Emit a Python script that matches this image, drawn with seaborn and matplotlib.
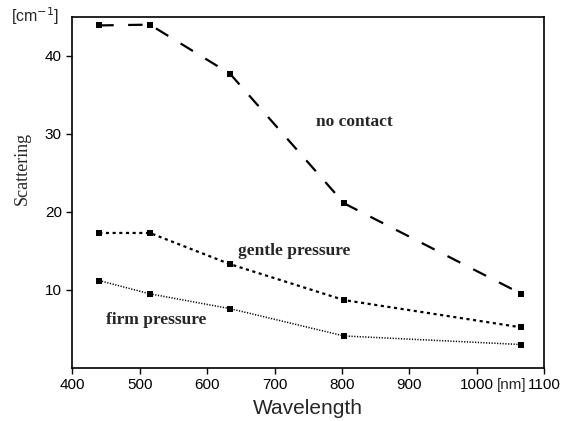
import matplotlib
matplotlib.use("Agg")
import matplotlib.pyplot as plt
import seaborn as sns
import pandas as pd

wavelength = [440, 515, 634, 803, 1066]
no_contact = [43.9, 44.0, 37.7, 21.1, 9.5]
gentle_pressure = [17.3, 17.3, 13.3, 8.7, 5.2]
firm_pressure = [11.2, 9.5, 7.6, 4.1, 3.0]

x_ticks = [400, 500, 600, 700, 800, 900, 1000, 1100]
y_ticks = [10, 20, 30, 40]

sns.set_style("ticks")
plt.rcParams["font.family"] = ["Liberation Sans", "DejaVu Sans"]

fig = plt.figure(figsize=(5.76, 4.21), dpi=100)
ax = fig.add_axes([0.1255, 0.126, 0.8195, 0.834])

sns.lineplot(x=wavelength, y=no_contact, ax=ax, color="black", marker="s",
             markersize=4.5, markeredgewidth=0, linewidth=1.6,
             linestyle=(0, (6.5, 6.5)))
sns.lineplot(x=wavelength, y=gentle_pressure, ax=ax, color="black", marker="s",
             markersize=4.5, markeredgewidth=0, linewidth=1.6,
             linestyle=(0, (1.4, 1.6)))
sns.lineplot(x=wavelength, y=firm_pressure, ax=ax, color="black", marker="s",
             markersize=4.5, markeredgewidth=0, linewidth=1.1,
             linestyle=(0, (0.8, 1.0)))

ax.set_xlim(400, 1100)
ax.set_ylim(0, 45)
ax.set_xticks(x_ticks)
ax.set_xticklabels(["400", "500", "600", "700", "800", "900", "1000", "1100"])
ax.set_yticks(y_ticks)
ax.tick_params(axis="both", labelsize=11, length=4, width=1, direction="out",
               colors="black")
for s in ax.spines.values():
    s.set_linewidth(1.2)
    s.set_color("black")

ax.set_xlabel("Wavelength", fontsize=15, labelpad=5)
ax.set_ylabel("Scattering", fontsize=13, family=["Liberation Serif"])
ax.yaxis.set_label_coords(-0.088, 0.567)

ax.text(1051, -1.35, "[nm]", fontsize=11, ha="center", va="top")
fig.text(0.061, 0.962, "[cm$^{-1}$]", fontsize=11.5, ha="center", va="center")

serif_kw = dict(fontsize=12.5, fontweight="bold", family=["Liberation Serif"],
                ha="center", va="center")
ax.text(819, 31.5, "no contact", **serif_kw)
ax.text(729, 15.0, "gentle pressure", **serif_kw)
ax.text(524, 6.1, "firm pressure", **serif_kw)

fig.savefig("out.png", dpi=100)
